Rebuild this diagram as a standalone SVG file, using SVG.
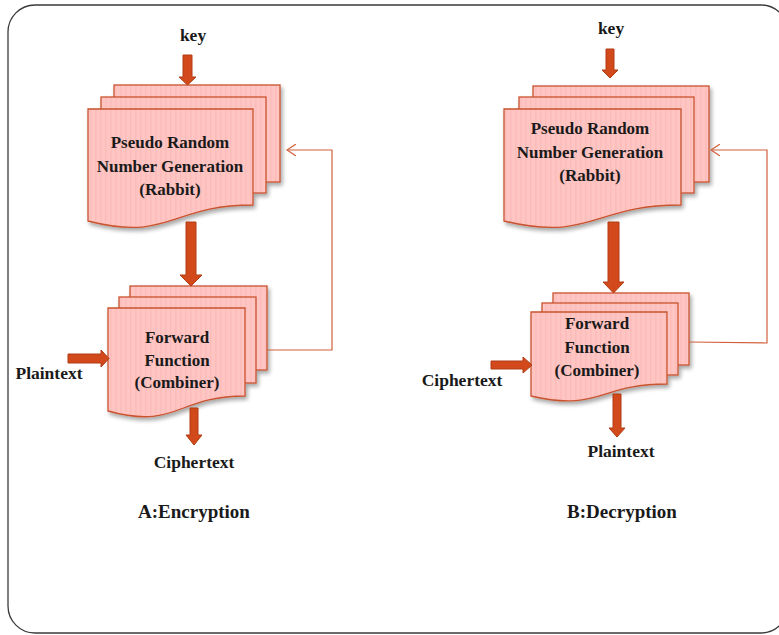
<svg xmlns="http://www.w3.org/2000/svg" width="779" height="635" viewBox="0 0 779 635">
  <defs>
    <!-- faint vertical grain on the sheets -->
    <pattern id="grain" width="5" height="10" patternUnits="userSpaceOnUse">
      <rect width="5" height="10" fill="#FFC5C3"/>
      <rect x="0" width="1.5" height="10" fill="#FCBCBA"/>
    </pattern>
    <filter id="shadow" x="-10%" y="-10%" width="130%" height="140%">
      <feGaussianBlur in="SourceAlpha" stdDeviation="2"/>
      <feOffset dx="2" dy="3" result="b"/>
      <feComponentTransfer><feFuncA type="linear" slope="0.35"/></feComponentTransfer>
      <feMerge><feMergeNode/><feMergeNode in="SourceGraphic"/></feMerge>
    </filter>
    <marker id="open" viewBox="0 0 10 12" refX="9" refY="6" markerWidth="10" markerHeight="12" markerUnits="userSpaceOnUse" orient="auto">
      <path d="M0,0 L9,6 L0,12" fill="none" stroke="#D2603C" stroke-width="1.2"/>
    </marker>
  </defs>
  <style>
    .sheet { fill: url(#grain); stroke: #C9532F; stroke-width: 1.3; }
    .blk { fill: #D2491B; stroke: #B03C14; stroke-width: 1; }
    .fb { fill: none; stroke: #D2603C; stroke-width: 1.2; }
    text { font-family: "Liberation Serif", "Times New Roman", serif; font-weight: bold; fill: #1A1A1A; text-anchor: middle; }
    .in { font-size: 17px; }
    .lbl { font-size: 17.5px; }
    .cap { font-size: 19px; }
  </style>

  <!-- outer frame -->
  <rect x="8" y="5" width="780" height="628" rx="27" ry="27" fill="#FFFFFF" stroke="#3A3A3A" stroke-width="1.3"/>

  <!-- A: Encryption -->
  <g id="prng-enc" filter="url(#shadow)">
    <rect class="sheet" x="114" y="85" width="166" height="97"/>
    <rect class="sheet" x="101" y="97" width="165" height="96"/>
    <path class="sheet" d="M88,109 H253 V205 C170.5,205 170.5,242 88,221 Z"/>
  </g>
  <g id="prng-enc-text">
    <text class="in" x="170" y="148">Pseudo Random</text>
    <text class="in" x="170" y="172">Number Generation</text>
    <text class="in" x="170" y="195">(Rabbit)</text>
  </g>

  <g id="comb-enc" filter="url(#shadow)">
    <rect class="sheet" x="130" y="286" width="137" height="84"/>
    <rect class="sheet" x="119" y="297" width="137" height="86"/>
    <path class="sheet" d="M108,308 H245 V396 C176.5,396 176.5,430 108,411 Z"/>
  </g>
  <g id="comb-enc-text">
    <text class="in" x="177" y="343">Forward</text>
    <text class="in" x="177" y="366">Function</text>
    <text class="in" x="177" y="388">(Combiner)</text>
  </g>

  <g id="labels-enc">
    <text class="lbl" x="193" y="41">key</text>
    <text class="lbl" x="49" y="379">Plaintext</text>
    <text class="lbl" x="194" y="468">Ciphertext</text>
    <text class="cap" x="194" y="518">A:Encryption</text>
  </g>

  <!-- B: Decryption -->
  <g id="prng-dec" filter="url(#shadow)">
    <rect class="sheet" x="533" y="86" width="176" height="96"/>
    <rect class="sheet" x="519" y="97" width="175" height="96"/>
    <path class="sheet" d="M504,109 H681 V205 C592.5,205 592.5,242 504,221 Z"/>
  </g>
  <g id="prng-dec-text">
    <text class="in" x="590" y="134">Pseudo Random</text>
    <text class="in" x="590" y="158">Number Generation</text>
    <text class="in" x="590" y="181">(Rabbit)</text>
  </g>

  <g id="comb-dec" filter="url(#shadow)">
    <rect class="sheet" x="553" y="293" width="136" height="72"/>
    <rect class="sheet" x="542" y="303" width="136" height="72"/>
    <path class="sheet" d="M531,312 H667 V384 C599,384 599,412 531,396 Z"/>
  </g>
  <g id="comb-dec-text">
    <text class="in" x="597" y="329">Forward</text>
    <text class="in" x="597" y="353">Function</text>
    <text class="in" x="597" y="376">(Combiner)</text>
  </g>

  <g id="labels-dec">
    <text class="lbl" x="611" y="34">key</text>
    <text class="lbl" x="462" y="386">Ciphertext</text>
    <text class="lbl" x="621" y="457">Plaintext</text>
    <text class="cap" x="622" y="518">B:Decryption</text>
  </g>

  <!-- connectors -->
  <g id="connectors">
    <!-- block arrows, encryption -->
    <path class="blk" d="M183,55 H192 V77 H196 L187.5,85 L179,77 H183 Z"/>
    <path class="blk" d="M186,222 H196 V275 H202 L191,286 L180,275 H186 Z"/>
    <path class="blk" d="M68,354 H101 V350 L109,358.5 L101,367 V363 H68 Z"/>
    <path class="blk" d="M190,408 H198 V435 H202 L194,445 L186,435 H190 Z"/>
    <!-- block arrows, decryption -->
    <path class="blk" d="M606,49 H614 V70 H618 L610,78 L602,70 H606 Z"/>
    <path class="blk" d="M608,222 H619 V282 H624 L613.5,293 L603,282 H608 Z"/>
    <path class="blk" d="M491,361 H523 V357 L532,365 L523,373 V369 H491 Z"/>
    <path class="blk" d="M613,394 H621 V428 H625 L617,437 L609,428 H613 Z"/>
    <!-- feedback loops -->
    <polyline class="fb" points="267,350 332,350 332,150 287,150" marker-end="url(#open)"/>
    <polyline class="fb" points="689,342 767,343 767,150 711,150" marker-end="url(#open)"/>
  </g>
</svg>
